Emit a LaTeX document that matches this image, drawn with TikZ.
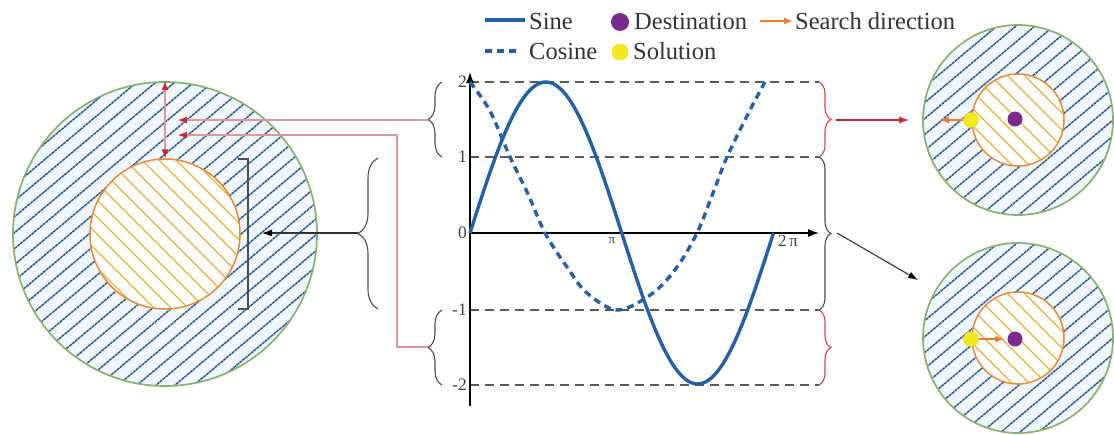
\documentclass[tikz,border=0pt]{standalone}
\usepackage{fontspec}
\setmainfont{Liberation Serif}
\usetikzlibrary{arrows.meta,decorations.pathreplacing,calc}
\definecolor{sineblue}{HTML}{2360A8}
\definecolor{hatchblue}{HTML}{2E5690}
\definecolor{ringfill}{HTML}{EFF7FC}
\definecolor{ringgreen}{HTML}{86B36A}
\definecolor{coreorange}{HTML}{E58B3A}
\definecolor{corelines}{HTML}{EDB040}
\definecolor{linkred}{HTML}{E3959C}
\definecolor{arrowred}{HTML}{C62A35}
\definecolor{bracered}{HTML}{D9434B}
\definecolor{destpurple}{HTML}{7A2A8C}
\definecolor{solyellow}{HTML}{F3E81A}
\definecolor{searchorange}{HTML}{E8802A}

% hatched target zone: x, y, outer r, inner r, name
\newcommand{\hatchzone}[5]{%
  \begin{scope}
    \clip (#1,#2) circle[radius=#3pt];
    \fill[ringfill] (#1,#2) circle[radius=#3pt];
    \foreach \k in {-14,...,14}
      \draw[ringhatch] ({#1+\k*19-1.532*#3},{#2+1.286*#3}) -- ++({3.064*#3},{-2.572*#3});
  \end{scope}
  \begin{scope}
    \clip (#1,#2) circle[radius=#4pt];
    \fill[white] (#1,#2) circle[radius=#4pt];
    \foreach \k in {-9,...,9}
      \draw[corehatch] ({#1+\k*17-2*#4},{#2-2*#4}) -- ++({4*#4},{4*#4});
  \end{scope}
  \node[ringedge, minimum size=2*#3pt] (#5out) at (#1,#2) {};
  \node[coreedge, minimum size=2*#4pt] (#5in) at (#1,#2) {};
}

\tikzset{
  ringhatch/.style={hatchblue, line width=1.5pt, dash pattern=on 3pt off 0.7pt},
  corehatch/.style={corelines, line width=1.3pt},
  ringedge/.style={circle, draw=ringgreen, line width=1.7pt, inner sep=0pt},
  coreedge/.style={circle, draw=coreorange, line width=1.5pt, inner sep=0pt}
}

\begin{document}
\begin{tikzpicture}[x=1pt, y=-1pt,
  sinecurve/.style={sineblue, line width=3.4pt},
  cosinecurve/.style={sineblue, line width=3.4pt, dash pattern=on 7pt off 5pt},
  level/.style={black!65, line width=1.1pt, dash pattern=on 9pt off 6pt},
  axis/.style={black, line width=1.3pt, -{Latex[length=11pt,width=8pt]}},
  ticklabel/.style={font=\fontsize{17.5}{18}\selectfont, text=black!75, inner sep=1pt},
  legendtext/.style={font=\fontsize{24.5}{27}\selectfont, text=black!80, anchor=base west, inner sep=0pt},
  bracegrey/.style={decorate, decoration={brace, amplitude=#1}, draw=black!70, line width=1.1pt},
  bracered/.style={decorate, decoration={brace, amplitude=#1}, draw=bracered, line width=1.1pt},
  redlink/.style={linkred, line width=1.1pt, -{Latex[length=9pt,width=7pt,color=arrowred]}},
  reddouble/.style={linkred, line width=1.1pt, arrows={Latex[length=9pt,width=7pt,color=arrowred]-Latex[length=9pt,width=7pt,color=arrowred]}},
  redarrow/.style={arrowred, line width=1.2pt, -{Latex[length=10pt,width=7pt]}},
  blackarrow/.style={black!80, line width=1.1pt, -{Latex[length=10pt,width=7pt,color=black]}},
  searcharrow/.style={searchorange, line width=2pt, -{Latex[length=9pt,width=7pt]}},
  destdot/.style={circle, fill=destpurple, inner sep=0pt, minimum size=#1},
  soldot/.style={circle, fill=solyellow, draw=solyellow!80!orange, inner sep=0pt, minimum size=#1}
]
  \useasboundingbox (0,0) rectangle (1114,434);

  % target zones
  \hatchzone{165}{234}{152}{75}{L}
  \hatchzone{1018}{120}{95}{46}{A}
  \hatchzone{1018}{338}{95}{46}{B}

  % legend
  \draw[sinecurve] (485,20) -- (525,20);
  \node[legendtext] (lsine) at (529,29) {Sine};
  \node[destdot=18pt] (ldest) at (620,22) {};
  \node[legendtext] (ldesttext) at (634,29) {Destination};
  \draw[searcharrow] (760,21) -- (793,21);
  \node[legendtext] (lsearch) at (795,29) {Search direction};
  \draw[cosinecurve] (485,51) -- (518,51);
  \node[legendtext] (lcos) at (529,59) {Cosine};
  \node[soldot=16pt] (lsol) at (620,52) {};
  \node[legendtext] (lsoltext) at (633,59) {Solution};

  % levels and axes
  \foreach \yy in {82,157,310,385}
    \draw[level] (470,\yy) -- (819,\yy);
  \draw[axis] (470,406) -- (470,72);
  \draw[axis] (470,233) -- (819,233);
  \node[ticklabel, anchor=east] (lab2) at (468,82) {2};
  \node[ticklabel, anchor=east] (lab1) at (468,157) {1};
  \node[ticklabel, anchor=east] (lab0) at (468,233) {0};
  \node[ticklabel, anchor=east] (labm1) at (468,310) {-1};
  \node[ticklabel, anchor=east] (labm2) at (468,385) {-2};
  \node[font=\fontsize{13}{13}\selectfont, text=black!75] (tpi) at (612,241) {π};
  \node[font=\fontsize{17}{17}\selectfont, text=black!75] (t2pi) at (788,241) {2\,π};

  % curves
  \draw[sinecurve] plot[domain=0:6.2832, samples=100, smooth] ({470+48.3*\x},{233-151*sin(\x r)});
  \draw[cosinecurve] plot[smooth, tension=0.55] coordinates {(470,82) (490,111) (510,157) (528,194) (545,233) (567,267) (587,293) (618,310) (653,293) (677,267) (697,233) (713,193) (727,157) (750,110) (765,82)};

  % braces right
  \draw[bracered=12pt] (819,82) -- (819,157);
  \draw[bracegrey=12pt] (819,157) -- (819,310);
  \draw[bracered=12pt] (819,310) -- (819,385);
  \coordinate (tipR1) at (831,120);
  \coordinate (tipR2) at (831,233);

  % braces left
  \draw[bracegrey=14pt] (442,157) -- (442,82);
  \draw[bracegrey=20pt] (378,309) -- (378,158);
  \draw[bracegrey=14pt] (442,385) -- (442,310);
  \coordinate (tipL1) at (428,120);
  \coordinate (tipL2) at (358,233);
  \coordinate (tipL3) at (428,347);

  % links to the left zone
  \coordinate (hitT) at (178,120);
  \coordinate (hitM) at (178,135);
  \coordinate (hitL) at (262,233);
  \draw[redlink] (tipL1) -- (hitT);
  \draw[redlink] (tipL3) -- ++(-31,0) |- (hitM);
  \draw[reddouble] (Lout.north) -- (Lin.north);
  \draw[black!70, line width=1.1pt] (238,159) -- (248,159) -- (248,309) -- (238,309);
  \draw[blackarrow] (tipL2) -- (hitL);

  % links to the right zones
  \coordinate (hitB) at (918,280);
  \draw[redarrow] ([xshift=5pt]tipR1) -- ([xshift=-13pt]Aout.west);
  \draw[blackarrow] ([xshift=6pt]tipR2) -- (hitB);

  % solutions and destinations
  \node[destdot=15pt] (destA) at (1015,119) {};
  \node[soldot=15pt] (solA) at (971,120) {};
  \coordinate (searchA) at (940,120);
  \draw[searcharrow, line width=1.5pt] (solA) -- (searchA);
  \node[destdot=15pt] (destB) at (1015,339) {};
  \node[soldot=15pt] (solB) at (971,339) {};
  \draw[searcharrow, line width=1.5pt, shorten >=3pt] (solB) -- (destB);
\end{tikzpicture}
\end{document}
